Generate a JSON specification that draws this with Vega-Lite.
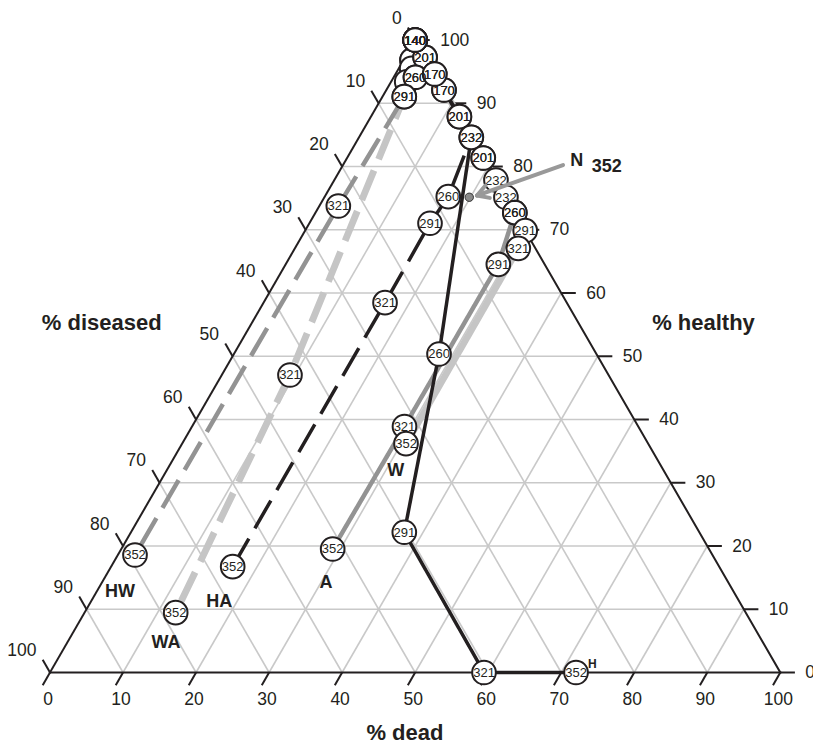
{
  "$schema": "https://vega.github.io/schema/vega-lite/v6.json",
  "width": 813,
  "height": 745,
  "autosize": "none",
  "padding": 0,
  "background": "white",
  "config": {"view": {"stroke": null}, "text": {"font": "Liberation Sans", "color": "#231f20"}},
  "datasets": {
    "frame": [
      {"d1": 0, "h1": 0, "d2": 100, "h2": 0},
      {"d1": 100, "h1": 0, "d2": 0, "h2": 100},
      {"d1": 0, "h1": 0, "d2": 0, "h2": 100}
    ],
    "grid": [
      {"d1": 10, "h1": 0, "d2": 10, "h2": 90},
      {"d1": 20, "h1": 0, "d2": 20, "h2": 80},
      {"d1": 30, "h1": 0, "d2": 30, "h2": 70},
      {"d1": 40, "h1": 0, "d2": 40, "h2": 60},
      {"d1": 50, "h1": 0, "d2": 50, "h2": 50},
      {"d1": 60, "h1": 0, "d2": 60, "h2": 40},
      {"d1": 70, "h1": 0, "d2": 70, "h2": 30},
      {"d1": 80, "h1": 0, "d2": 80, "h2": 20},
      {"d1": 90, "h1": 0, "d2": 90, "h2": 10},
      {"d1": 0, "h1": 10, "d2": 90, "h2": 10},
      {"d1": 0, "h1": 20, "d2": 80, "h2": 20},
      {"d1": 0, "h1": 30, "d2": 70, "h2": 30},
      {"d1": 0, "h1": 40, "d2": 60, "h2": 40},
      {"d1": 0, "h1": 50, "d2": 50, "h2": 50},
      {"d1": 0, "h1": 60, "d2": 40, "h2": 60},
      {"d1": 0, "h1": 70, "d2": 30, "h2": 70},
      {"d1": 0, "h1": 80, "d2": 20, "h2": 80},
      {"d1": 0, "h1": 90, "d2": 10, "h2": 90},
      {"d1": 0, "h1": 90, "d2": 90, "h2": 0},
      {"d1": 0, "h1": 80, "d2": 80, "h2": 0},
      {"d1": 0, "h1": 70, "d2": 70, "h2": 0},
      {"d1": 0, "h1": 60, "d2": 60, "h2": 0},
      {"d1": 0, "h1": 50, "d2": 50, "h2": 0},
      {"d1": 0, "h1": 40, "d2": 40, "h2": 0},
      {"d1": 0, "h1": 30, "d2": 30, "h2": 0},
      {"d1": 0, "h1": 20, "d2": 20, "h2": 0},
      {"d1": 0, "h1": 10, "d2": 10, "h2": 0}
    ],
    "ticks": [
      {"axis": "dead", "v": 0, "d1": 0, "h1": 0, "d2": 0, "h2": -2},
      {"axis": "dead", "v": 10, "d1": 10, "h1": 0, "d2": 10, "h2": -2},
      {"axis": "dead", "v": 20, "d1": 20, "h1": 0, "d2": 20, "h2": -2},
      {"axis": "dead", "v": 30, "d1": 30, "h1": 0, "d2": 30, "h2": -2},
      {"axis": "dead", "v": 40, "d1": 40, "h1": 0, "d2": 40, "h2": -2},
      {"axis": "dead", "v": 50, "d1": 50, "h1": 0, "d2": 50, "h2": -2},
      {"axis": "dead", "v": 60, "d1": 60, "h1": 0, "d2": 60, "h2": -2},
      {"axis": "dead", "v": 70, "d1": 70, "h1": 0, "d2": 70, "h2": -2},
      {"axis": "dead", "v": 80, "d1": 80, "h1": 0, "d2": 80, "h2": -2},
      {"axis": "dead", "v": 90, "d1": 90, "h1": 0, "d2": 90, "h2": -2},
      {"axis": "dead", "v": 100, "d1": 100, "h1": 0, "d2": 100, "h2": -2},
      {"axis": "healthy", "v": 0, "d1": 100, "h1": 0, "d2": 102, "h2": 0},
      {"axis": "healthy", "v": 10, "d1": 90, "h1": 10, "d2": 92, "h2": 10},
      {"axis": "healthy", "v": 20, "d1": 80, "h1": 20, "d2": 82, "h2": 20},
      {"axis": "healthy", "v": 30, "d1": 70, "h1": 30, "d2": 72, "h2": 30},
      {"axis": "healthy", "v": 40, "d1": 60, "h1": 40, "d2": 62, "h2": 40},
      {"axis": "healthy", "v": 50, "d1": 50, "h1": 50, "d2": 52, "h2": 50},
      {"axis": "healthy", "v": 60, "d1": 40, "h1": 60, "d2": 42, "h2": 60},
      {"axis": "healthy", "v": 70, "d1": 30, "h1": 70, "d2": 32, "h2": 70},
      {"axis": "healthy", "v": 80, "d1": 20, "h1": 80, "d2": 22, "h2": 80},
      {"axis": "healthy", "v": 90, "d1": 10, "h1": 90, "d2": 12, "h2": 90},
      {"axis": "healthy", "v": 100, "d1": 0, "h1": 100, "d2": 2, "h2": 100},
      {"axis": "diseased", "v": 0, "d1": 0, "h1": 100, "d2": -2, "h2": 102},
      {"axis": "diseased", "v": 10, "d1": 0, "h1": 90, "d2": -2, "h2": 92},
      {"axis": "diseased", "v": 20, "d1": 0, "h1": 80, "d2": -2, "h2": 82},
      {"axis": "diseased", "v": 30, "d1": 0, "h1": 70, "d2": -2, "h2": 72},
      {"axis": "diseased", "v": 40, "d1": 0, "h1": 60, "d2": -2, "h2": 62},
      {"axis": "diseased", "v": 50, "d1": 0, "h1": 50, "d2": -2, "h2": 52},
      {"axis": "diseased", "v": 60, "d1": 0, "h1": 40, "d2": -2, "h2": 42},
      {"axis": "diseased", "v": 70, "d1": 0, "h1": 30, "d2": -2, "h2": 32},
      {"axis": "diseased", "v": 80, "d1": 0, "h1": 20, "d2": -2, "h2": 22},
      {"axis": "diseased", "v": 90, "d1": 0, "h1": 10, "d2": -2, "h2": 12},
      {"axis": "diseased", "v": 100, "d1": 0, "h1": 0, "d2": -2, "h2": 2}
    ],
    "obs": [
      {"series": "HW", "day": 170, "dead": 1.15, "healthy": 96.85},
      {"series": "WA", "day": 170, "dead": 1.15, "healthy": 96.85},
      {"series": "HW", "day": 232, "dead": 1.76, "healthy": 95.53},
      {"series": "WA", "day": 232, "dead": 2.14, "healthy": 93.41},
      {"series": "HW", "day": 201, "dead": 2.73, "healthy": 97.27},
      {"series": "WA", "day": 201, "dead": 2.73, "healthy": 97.27},
      {"series": "HW", "day": 260, "dead": 2.99, "healthy": 94.11},
      {"series": "WA", "day": 260, "dead": 2.99, "healthy": 94.11},
      {"series": "W", "day": 170, "dead": 7.9, "healthy": 92.1},
      {"series": "A", "day": 170, "dead": 7.9, "healthy": 92.1},
      {"series": "H", "day": 170, "dead": 5.37, "healthy": 94.63},
      {"series": "HA", "day": 170, "dead": 5.37, "healthy": 94.63},
      {"series": "HW", "day": 291, "dead": 2.99, "healthy": 91.04},
      {"series": "WA", "day": 291, "dead": 2.99, "healthy": 91.04},
      {"series": "H", "day": 140, "dead": 0, "healthy": 100},
      {"series": "HA", "day": 140, "dead": 0, "healthy": 100},
      {"series": "W", "day": 140, "dead": 0, "healthy": 100},
      {"series": "A", "day": 140, "dead": 0, "healthy": 100},
      {"series": "HW", "day": 140, "dead": 0, "healthy": 100},
      {"series": "WA", "day": 140, "dead": 0, "healthy": 100},
      {"series": "H", "day": 201, "dead": 12.12, "healthy": 87.88},
      {"series": "HA", "day": 201, "dead": 12.12, "healthy": 87.88},
      {"series": "H", "day": 232, "dead": 15.38, "healthy": 84.62},
      {"series": "HA", "day": 232, "dead": 15.38, "healthy": 84.62},
      {"series": "W", "day": 201, "dead": 18.65, "healthy": 81.35},
      {"series": "A", "day": 201, "dead": 18.65, "healthy": 81.35},
      {"series": "W", "day": 232, "dead": 22.13, "healthy": 77.87},
      {"series": "A", "day": 232, "dead": 24.86, "healthy": 75.14},
      {"series": "W", "day": 260, "dead": 27.3, "healthy": 72.7},
      {"series": "A", "day": 260, "dead": 27.3, "healthy": 72.7},
      {"series": "W", "day": 291, "dead": 30.14, "healthy": 69.86},
      {"series": "W", "day": 321, "dead": 30.59, "healthy": 67.07},
      {"series": "A", "day": 291, "dead": 29.12, "healthy": 64.54},
      {"series": "HA", "day": 260, "dead": 16.92, "healthy": 75.23},
      {"series": "HA", "day": 291, "dead": 16.52, "healthy": 71.03},
      {"series": "HA", "day": 321, "dead": 16.64, "healthy": 58.47},
      {"series": "HA", "day": 352, "dead": 16.65, "healthy": 16.73},
      {"series": "HW", "day": 321, "dead": 2.6, "healthy": 73.76},
      {"series": "HW", "day": 352, "dead": 2.35, "healthy": 18.58},
      {"series": "WA", "day": 321, "dead": 9.34, "healthy": 47.04},
      {"series": "WA", "day": 352, "dead": 12.48, "healthy": 9.46},
      {"series": "H", "day": 260, "dead": 28.09, "healthy": 50.36},
      {"series": "H", "day": 291, "dead": 37.43, "healthy": 22.17},
      {"series": "H", "day": 321, "dead": 59.43, "healthy": 0},
      {"series": "H", "day": 352, "dead": 72.03, "healthy": 0},
      {"series": "A", "day": 321, "dead": 29.09, "healthy": 38.9},
      {"series": "A", "day": 352, "dead": 28.94, "healthy": 19.53},
      {"series": "W", "day": 352, "dead": 30.66, "healthy": 36.18},
      {"series": "N", "day": 352, "dead": 19.84, "healthy": 75.14}
    ],
    "arrow": [
      {"d1": 30.12, "h1": 80.24, "d2": 20.76, "h2": 75.42},
      {"d1": 20.76, "h1": 75.42, "d2": 22.7, "h2": 75.04},
      {"d1": 20.76, "h1": 75.42, "d2": 21.13, "h2": 76.99}
    ],
    "notes": [
      {"label": "% dead", "kind": "title", "dead": 53.39, "healthy": -9.57},
      {"label": "% diseased", "kind": "title", "dead": -20.55, "healthy": 55.26},
      {"label": "% healthy", "kind": "title", "dead": 61.85, "healthy": 55.26},
      {"label": "HW", "kind": "series", "dead": 3.2, "healthy": 12.78},
      {"label": "WA", "kind": "series", "dead": 13.58, "healthy": 4.62},
      {"label": "HA", "kind": "series", "dead": 17.59, "healthy": 11.19},
      {"label": "A", "kind": "series", "dead": 30.74, "healthy": 14.1},
      {"label": "W", "kind": "series", "dead": 31.41, "healthy": 31.86},
      {"label": "N", "kind": "series", "dead": 31.66, "healthy": 80.92},
      {"label": "352", "kind": "series", "dead": 36.29, "healthy": 79.88},
      {"label": "H", "kind": "small", "dead": 73.59, "healthy": 1.34}
    ]
  },
  "encoding": {
    "x": {"field": "x", "type": "quantitative", "scale": {"domain": [-6.8465, 104.478], "nice": false, "zero": false}, "axis": null},
    "y": {"field": "y", "type": "quantitative", "scale": {"domain": [-9.928, 92.085], "nice": false, "zero": false}, "axis": null}
  },
  "layer": [
    {
      "data": {"name": "grid"},
      "transform": [
        {"calculate": "datum.d1 + datum.h1 / 2", "as": "x"},
        {"calculate": "datum.h1 * 0.8660254", "as": "y"},
        {"calculate": "datum.d2 + datum.h2 / 2", "as": "x2"},
        {"calculate": "datum.h2 * 0.8660254", "as": "y2"}
      ],
      "mark": {"type": "rule", "color": "#c9c9c9", "strokeWidth": 1.6},
      "encoding": {"x2": {"field": "x2"}, "y2": {"field": "y2"}}
    },
    {
      "data": {"name": "frame"},
      "transform": [
        {"calculate": "datum.d1 + datum.h1 / 2", "as": "x"},
        {"calculate": "datum.h1 * 0.8660254", "as": "y"},
        {"calculate": "datum.d2 + datum.h2 / 2", "as": "x2"},
        {"calculate": "datum.h2 * 0.8660254", "as": "y2"}
      ],
      "mark": {"type": "rule", "color": "#231f20", "strokeWidth": 2, "strokeCap": "square"},
      "encoding": {"x2": {"field": "x2"}, "y2": {"field": "y2"}}
    },
    {
      "data": {"name": "ticks"},
      "transform": [
        {"calculate": "datum.d1 + datum.h1 / 2", "as": "x"},
        {"calculate": "datum.h1 * 0.8660254", "as": "y"},
        {"calculate": "datum.d2 + datum.h2 / 2", "as": "x2"},
        {"calculate": "datum.h2 * 0.8660254", "as": "y2"}
      ],
      "mark": {"type": "rule", "color": "#231f20", "strokeWidth": 2},
      "encoding": {"x2": {"field": "x2"}, "y2": {"field": "y2"}}
    },
    {
      "data": {"name": "ticks"},
      "transform": [
        {"filter": "datum.axis === 'dead'"},
        {"calculate": "datum.d1 + datum.h1 / 2", "as": "x"},
        {"calculate": "datum.h1 * 0.8660254", "as": "y"}
      ],
      "mark": {"type": "text", "fontSize": 17.5, "align": "center", "baseline": "middle", "dx": -2, "dy": 27.5},
      "encoding": {"text": {"field": "v"}}
    },
    {
      "data": {"name": "ticks"},
      "transform": [
        {"filter": "datum.axis === 'healthy'"},
        {"calculate": "datum.d1 + datum.h1 / 2", "as": "x"},
        {"calculate": "datum.h1 * 0.8660254", "as": "y"}
      ],
      "mark": {"type": "text", "fontSize": 17.5, "align": "left", "baseline": "middle", "dx": 25, "dy": 0.5},
      "encoding": {"text": {"field": "v"}}
    },
    {
      "data": {"name": "ticks"},
      "transform": [
        {"filter": "datum.axis === 'diseased'"},
        {"calculate": "datum.d1 + datum.h1 / 2", "as": "x"},
        {"calculate": "datum.h1 * 0.8660254", "as": "y"}
      ],
      "mark": {"type": "text", "fontSize": 17.5, "align": "right", "baseline": "middle", "dx": -13.5, "dy": -21.5},
      "encoding": {"text": {"field": "v"}}
    },
    {
      "data": {"name": "obs"},
      "transform": [
        {"filter": "datum.series === 'W' || datum.series === 'WA'"},
        {"calculate": "datum.dead + datum.healthy / 2", "as": "x"},
        {"calculate": "datum.healthy * 0.8660254", "as": "y"}
      ],
      "mark": {"type": "line", "color": "#c5c5c5", "strokeWidth": 6.8, "strokeCap": "butt", "strokeJoin": "round"},
      "encoding": {
        "detail": {"field": "series", "type": "nominal"},
        "order": {"field": "day", "type": "quantitative"},
        "strokeDash": {"field": "series", "type": "nominal", "scale": {"domain": ["W", "WA"], "range": [[1, 0], [32, 12]]}, "legend": null}
      }
    },
    {
      "data": {"name": "obs"},
      "transform": [
        {"filter": "datum.series === 'A' || datum.series === 'HW'"},
        {"calculate": "datum.dead + datum.healthy / 2", "as": "x"},
        {"calculate": "datum.healthy * 0.8660254", "as": "y"}
      ],
      "mark": {"type": "line", "color": "#939393", "strokeWidth": 4.5, "strokeCap": "butt", "strokeJoin": "round"},
      "encoding": {
        "detail": {"field": "series", "type": "nominal"},
        "order": {"field": "day", "type": "quantitative"},
        "strokeDash": {"field": "series", "type": "nominal", "scale": {"domain": ["A", "HW"], "range": [[1, 0], [30, 16]]}, "legend": null}
      }
    },
    {
      "data": {"name": "obs"},
      "transform": [
        {"filter": "datum.series === 'H' || datum.series === 'HA'"},
        {"calculate": "datum.dead + datum.healthy / 2", "as": "x"},
        {"calculate": "datum.healthy * 0.8660254", "as": "y"}
      ],
      "mark": {"type": "line", "color": "#231f20", "strokeWidth": 3.5, "strokeCap": "butt", "strokeJoin": "round"},
      "encoding": {
        "detail": {"field": "series", "type": "nominal"},
        "order": {"field": "day", "type": "quantitative"},
        "strokeDash": {"field": "series", "type": "nominal", "scale": {"domain": ["H", "HA"], "range": [[1, 0], [31, 13]]}, "legend": null}
      }
    },
    {
      "data": {"name": "obs"},
      "transform": [
        {"filter": "datum.series !== 'N'"},
        {"calculate": "datum.dead + datum.healthy / 2", "as": "x"},
        {"calculate": "datum.healthy * 0.8660254", "as": "y"}
      ],
      "mark": {"type": "point", "shape": "circle", "filled": true, "fill": "white", "stroke": "#231f20", "strokeWidth": 2, "size": 560, "opacity": 1}
    },
    {
      "data": {"name": "obs"},
      "transform": [
        {"filter": "datum.series !== 'N' && !((datum.series === 'HW' || datum.series === 'WA') && (datum.day === 170 || datum.day === 232))"},
        {"calculate": "datum.dead + datum.healthy / 2", "as": "x"},
        {"calculate": "datum.healthy * 0.8660254", "as": "y"}
      ],
      "mark": {"type": "text", "fontSize": 13, "align": "center", "baseline": "middle", "dy": 0.5},
      "encoding": {"text": {"field": "day"}}
    },
    {
      "data": {"name": "arrow"},
      "transform": [
        {"calculate": "datum.d1 + datum.h1 / 2", "as": "x"},
        {"calculate": "datum.h1 * 0.8660254", "as": "y"},
        {"calculate": "datum.d2 + datum.h2 / 2", "as": "x2"},
        {"calculate": "datum.h2 * 0.8660254", "as": "y2"}
      ],
      "mark": {"type": "rule", "color": "#999999", "strokeWidth": 4, "strokeCap": "round"},
      "encoding": {"x2": {"field": "x2"}, "y2": {"field": "y2"}}
    },
    {
      "data": {"name": "obs"},
      "transform": [
        {"filter": "datum.series === 'N'"},
        {"calculate": "datum.dead + datum.healthy / 2", "as": "x"},
        {"calculate": "datum.healthy * 0.8660254", "as": "y"}
      ],
      "mark": {"type": "point", "shape": "circle", "filled": true, "fill": "#8a8a8a", "stroke": "#333333", "strokeWidth": 1, "size": 70, "opacity": 1}
    },
    {
      "data": {"name": "notes"},
      "transform": [
        {"filter": "datum.kind === 'title'"},
        {"calculate": "datum.dead + datum.healthy / 2", "as": "x"},
        {"calculate": "datum.healthy * 0.8660254", "as": "y"}
      ],
      "mark": {"type": "text", "fontSize": 22, "fontWeight": "bold", "align": "center", "baseline": "middle"},
      "encoding": {"text": {"field": "label"}}
    },
    {
      "data": {"name": "notes"},
      "transform": [
        {"filter": "datum.kind === 'series'"},
        {"calculate": "datum.dead + datum.healthy / 2", "as": "x"},
        {"calculate": "datum.healthy * 0.8660254", "as": "y"}
      ],
      "mark": {"type": "text", "fontSize": 18, "fontWeight": "bold", "align": "center", "baseline": "middle"},
      "encoding": {"text": {"field": "label"}}
    },
    {
      "data": {"name": "notes"},
      "transform": [
        {"filter": "datum.kind === 'small'"},
        {"calculate": "datum.dead + datum.healthy / 2", "as": "x"},
        {"calculate": "datum.healthy * 0.8660254", "as": "y"}
      ],
      "mark": {"type": "text", "fontSize": 12, "fontWeight": "bold", "align": "center", "baseline": "middle"},
      "encoding": {"text": {"field": "label"}}
    }
  ]
}
